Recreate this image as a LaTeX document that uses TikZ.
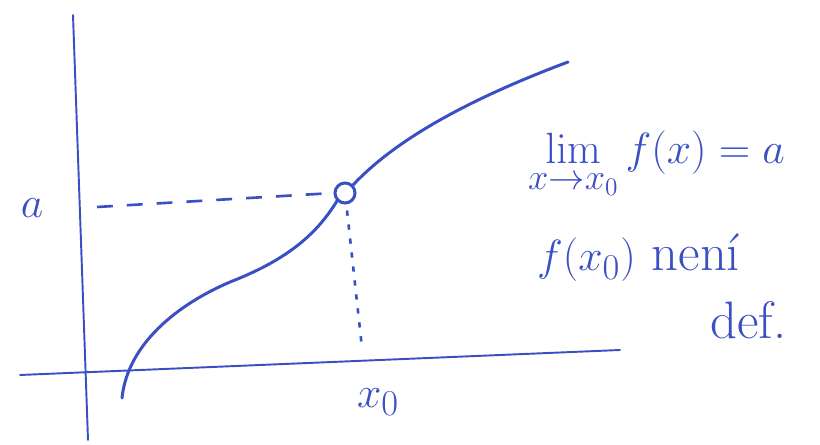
\documentclass[tikz,border=0pt]{standalone}
\usepackage{xcolor}
\definecolor{InkBlue}{HTML}{3B4FC4}
\usepackage{tikz}
\usetikzlibrary{positioning}
\usepackage{amsmath}

\begin{document}
\begin{tikzpicture}[
  x=0.02cm, y=-0.02cm,
  axis/.style={InkBlue, line width=1.1pt, line cap=round},
  graph/.style={InkBlue, line width=1.7pt, line cap=round},
  guide/.style={InkBlue, line width=1.5pt, dash pattern=on 9pt off 8pt},
  dots/.style={InkBlue, line width=1.5pt, dash pattern=on 3pt off 5pt},
  hole/.style={circle, draw=InkBlue, line width=1.7pt, fill=white,
               minimum size=0.4cm, inner sep=0pt},
  ink/.style={text=InkBlue, font=\fontsize{30}{34}\selectfont, inner sep=1pt}
]
  \useasboundingbox (0,0) rectangle (820,445);

  % axes
  \coordinate (ytop) at (73,15);
  \coordinate (ybot) at (88,440);
  \coordinate (xleft) at (20,375);
  \coordinate (xright) at (620,350);
  \draw[axis] (ybot) -- (ytop);
  \draw[axis] (xleft) -- (xright);

  % the point with the hole
  \node[hole] (p) at (345,193) {};
  \coordinate (start) at (122,398);
  \coordinate (end) at (568,62);
  \draw[graph] (start) .. controls (128,340) and (185,300) .. (235,280)
                .. controls (290,258) and (318,232) .. (p.south west);
  \draw[graph] (p.north east) .. controls (400,135) and (480,95) .. (end);

  % guides
  \coordinate (aa) at (97,207);
  \coordinate (xx) at (362,348);
  \draw[guide] (aa) -- (p.west);
  \draw[dots] (p.south) ++(2,6) -- (xx);

  % labels
  \node[ink] (la) at (32,208) {$a$};
  \node[ink] (lx) at (378,402) {$x_0$};
  \node[ink, anchor=west] (lim) at (526,165) {$\lim\limits_{x\to x_0} f(x)=a$};
  \node[ink, anchor=west] (fx) at (535,258) {$f(x_0)$ není};
  \node[ink, anchor=west] (def) at (708,320) {def.};
\end{tikzpicture}
\end{document}
